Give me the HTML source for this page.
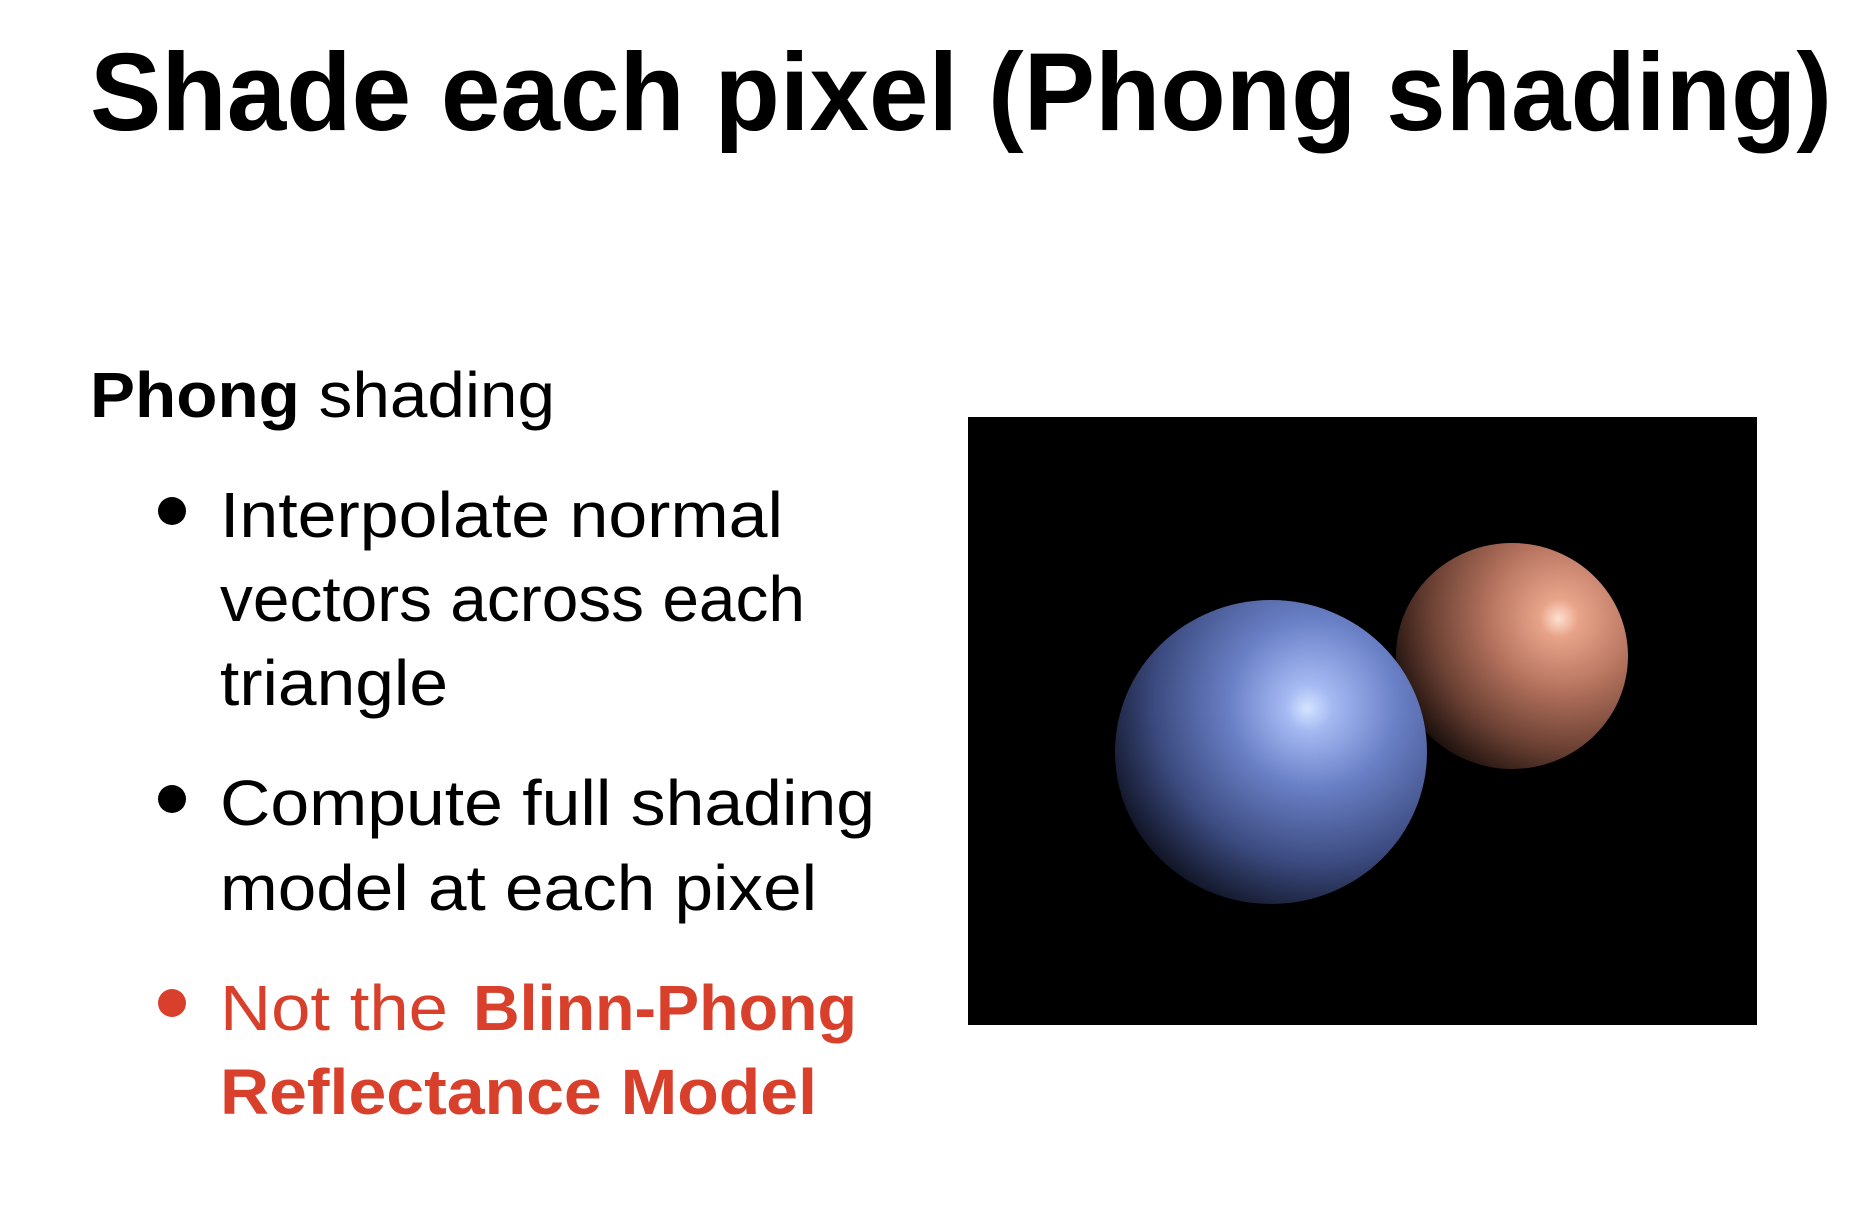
<!DOCTYPE html>
<html><head><meta charset="utf-8"><style>
html,body{margin:0;padding:0;background:#fff;width:1860px;height:1208px;overflow:hidden}
svg{display:block}
</style></head><body>
<svg width="1860" height="1208" viewBox="0 0 1860 1208">
<defs>
<radialGradient id="gBlue" gradientUnits="userSpaceOnUse" cx="1330" cy="690" fx="1307" fy="709" r="300">
<stop offset="0" stop-color="#d4e4ff"/>
<stop offset="0.08" stop-color="#a4b8f2"/>
<stop offset="0.28" stop-color="#6a80c6"/>
<stop offset="0.55" stop-color="#3c4b80"/>
<stop offset="0.8" stop-color="#0c0f1c"/>
<stop offset="1" stop-color="#000"/>
</radialGradient>
<radialGradient id="gBrown" gradientUnits="userSpaceOnUse" cx="1575" cy="605" fx="1558" fy="619" r="240">
<stop offset="0" stop-color="#ffe0d0"/>
<stop offset="0.08" stop-color="#e8a48a"/>
<stop offset="0.3" stop-color="#b87560"/>
<stop offset="0.58" stop-color="#6a4033"/>
<stop offset="0.82" stop-color="#120a08"/>
<stop offset="1" stop-color="#000"/>
</radialGradient>
</defs>
<text x="90" y="130" font-family="Liberation Sans, sans-serif" font-weight="bold" font-size="110" textLength="1742" lengthAdjust="spacingAndGlyphs" fill="#000">Shade each pixel (Phong shading)</text>
<g font-family="Liberation Sans, sans-serif" font-size="64" fill="#000">
<text x="90" y="417" textLength="465" lengthAdjust="spacingAndGlyphs"><tspan font-weight="bold">Phong</tspan> shading</text>
<circle cx="172" cy="511" r="14" fill="#000"/>
<text x="220" y="537" textLength="563" lengthAdjust="spacingAndGlyphs">Interpolate normal</text>
<text x="220" y="621" textLength="585" lengthAdjust="spacingAndGlyphs">vectors across each</text>
<text x="220" y="705" textLength="228" lengthAdjust="spacingAndGlyphs">triangle</text>
<circle cx="172" cy="799" r="14" fill="#000"/>
<text x="220" y="825" textLength="655" lengthAdjust="spacingAndGlyphs">Compute full shading</text>
<text x="220" y="910" textLength="597" lengthAdjust="spacingAndGlyphs">model at each pixel</text>
<circle cx="172" cy="1003" r="14" fill="#d9402b"/>
<text x="220" y="1030" fill="#d9402b" textLength="228" lengthAdjust="spacingAndGlyphs">Not the</text>
<text x="473" y="1030" fill="#d9402b" font-weight="bold" textLength="384" lengthAdjust="spacingAndGlyphs">Blinn-Phong</text>
<text x="220" y="1114" fill="#d9402b" font-weight="bold" textLength="597" lengthAdjust="spacingAndGlyphs">Reflectance Model</text>
</g>
<g>
<rect x="968" y="417" width="789" height="608" fill="#000"/>
<ellipse cx="1512" cy="656" rx="116" ry="113" fill="url(#gBrown)"/>
<ellipse cx="1271" cy="752" rx="156" ry="152" fill="url(#gBlue)"/>
</g>
</svg>
</body></html>
